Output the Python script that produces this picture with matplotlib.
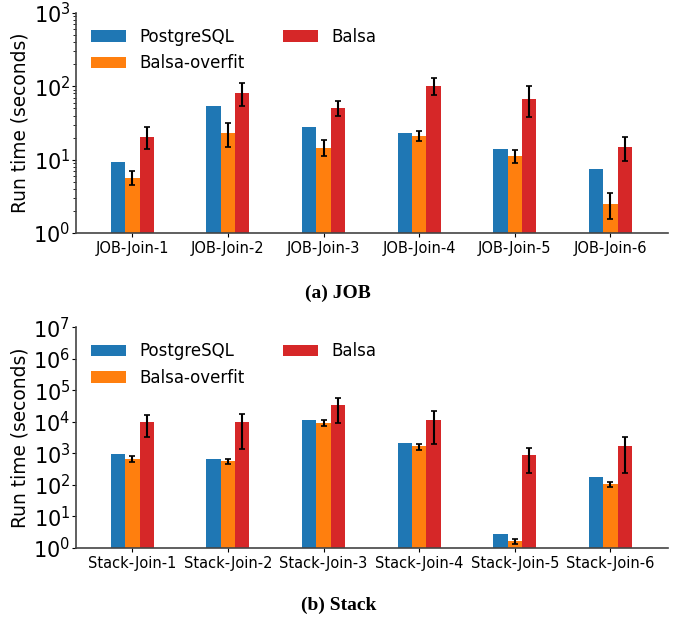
import matplotlib
matplotlib.use("Agg")
import matplotlib.pyplot as plt
import numpy as np

methods = ["PostgreSQL", "Balsa-overfit", "Balsa"]
colors = ["tab:blue", "tab:orange", "tab:red"]

job_labels = ["JOB-Join-1", "JOB-Join-2", "JOB-Join-3", "JOB-Join-4", "JOB-Join-5", "JOB-Join-6"]
job_pg = [9.4, 54.5, 28.2, 23.4, 14.1, 7.5]
job_overfit = [5.7, 23.4, 14.6, 21.3, 11.3, 2.5]
job_overfit_lo = [4.5, 14.7, 11.1, 17.8, 9.0, 1.55]
job_overfit_hi = [6.9, 31.6, 18.6, 24.4, 13.5, 3.5]
job_balsa = [20.6, 82, 51, 102, 68, 15]
job_balsa_lo = [14.0, 54.5, 39, 76, 38, 9.7]
job_balsa_hi = [27.6, 110, 63, 128, 100, 20.6]

stack_labels = ["Stack-Join-1", "Stack-Join-2", "Stack-Join-3", "Stack-Join-4", "Stack-Join-5", "Stack-Join-6"]
stack_pg = [948, 658, 11400, 2120, 2.72, 176]
stack_overfit = [658, 565, 9150, 1700, 1.63, 106]
stack_overfit_lo = [525, 455, 7340, 1260, 1.37, 85]
stack_overfit_hi = [800, 658, 11100, 2020, 1.98, 128]
stack_balsa = [9800, 10000, 34000, 11400, 881, 1700]
stack_balsa_lo = [3370, 1370, 8900, 2020, 241, 241]
stack_balsa_hi = [17000, 17700, 58500, 22000, 1470, 3220]


def draw(ax, labels, pg, ov, ov_lo, ov_hi, ba, ba_lo, ba_hi, ymax):
    x = np.arange(len(labels))
    w = 0.15
    ov = np.array(ov)
    ba = np.array(ba)
    ov_err = [ov - np.array(ov_lo), np.array(ov_hi) - ov]
    ba_err = [ba - np.array(ba_lo), np.array(ba_hi) - ba]
    ax.bar(x - w, pg, w, color=colors[0], label=methods[0])
    ax.bar(x, ov, w, color=colors[1], label=methods[1], yerr=ov_err,
           error_kw=dict(ecolor="black", elinewidth=1.5, capsize=2, capthick=1.2))
    ax.bar(x + w, ba, w, color=colors[2], label=methods[2], yerr=ba_err,
           error_kw=dict(ecolor="black", elinewidth=1.5, capsize=2, capthick=1.2))
    ax.set_yscale("log")
    ax.set_ylim(1, ymax)
    ax.set_xlim(-0.59, 5.6)
    ax.set_xticks(x)
    ax.set_xticklabels(labels, fontsize=10.5)
    ax.tick_params(axis="y", labelsize=15, pad=1, length=3)
    ax.tick_params(axis="y", which="minor", length=2)
    ax.tick_params(axis="x", length=3, pad=3)
    ax.set_ylabel("Run time (seconds)", fontsize=13.4, labelpad=3)
    ax.spines["top"].set_visible(False)
    ax.spines["right"].set_visible(False)
    for s in ["left", "bottom"]:
        ax.spines[s].set_color("#444444")
        ax.spines[s].set_linewidth(1.2)
    ax.legend(ncol=2, frameon=False, fontsize=12, loc="upper left",
              handlelength=2.1, columnspacing=2.3, bbox_to_anchor=(0.0, 1.0))


fig = plt.figure(figsize=(6.78, 6.22), dpi=100)
ax1 = fig.add_axes([0.112, 0.6254, 0.873, 0.3537])
ax2 = fig.add_axes([0.112, 0.119, 0.873, 0.355])

draw(ax1, job_labels, job_pg, job_overfit, job_overfit_lo, job_overfit_hi,
     job_balsa, job_balsa_lo, job_balsa_hi, 1e3)
draw(ax2, stack_labels, stack_pg, stack_overfit, stack_overfit_lo, stack_overfit_hi,
     stack_balsa, stack_balsa_lo, stack_balsa_hi, 1e7)
ax2.set_yticks([10.0 ** k for k in range(8)])

fig.text(0.499, 0.529, "(a) JOB", ha="center", va="center", fontsize=14,
         fontweight="bold", family="Liberation Serif")
fig.text(0.499, 0.027, "(b) Stack", ha="center", va="center", fontsize=14,
         fontweight="bold", family="Liberation Serif")

fig.savefig("out.png", dpi=100)
